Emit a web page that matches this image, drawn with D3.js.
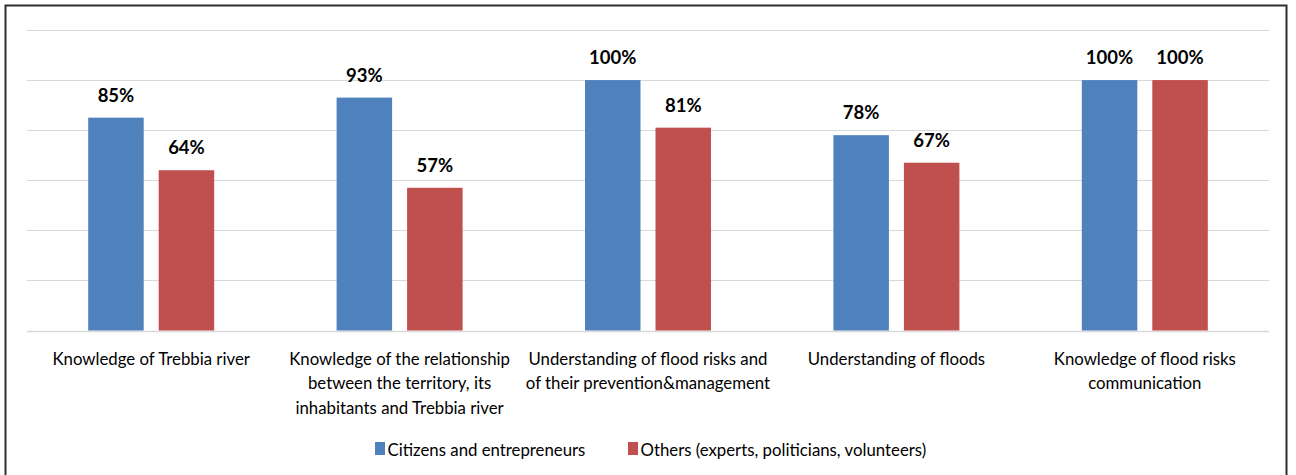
<!DOCTYPE html>
<html>
<head>
<meta charset="utf-8">
<script src="https://cdn.jsdelivr.net/npm/d3@7"></script>
<style>
  html, body { margin: 0; padding: 0; background: #fff; }
  svg { display: block; }
</style>
</head>
<body>
<svg id="chart" width="1296" height="475"></svg>
<script>
// Survey results: share of respondents per topic, by group
const categories = [
  "Knowledge of Trebbia river",
  "Knowledge of the relationship between the territory, its inhabitants and Trebbia river",
  "Understanding of flood risks and of their prevention&management",
  "Understanding of floods",
  "Knowledge of flood risks communication"
];
const seriesNames = ["Citizens and entrepreneurs", "Others (experts, politicians, volunteers)"];
const citizens = [85, 93, 100, 78, 100];
const others = [64, 57, 81, 67, 100];
const yTicks = [0, 20, 40, 60, 80, 100, 120];
const colors = ["#4F81BD", "#C0504D"];

const FONT = "Lato, 'Open Sans', sans-serif";
const svg = d3.select("#chart");

// outer frame
svg.append("rect")
  .attr("x", 5.5).attr("y", 5.5)
  .attr("width", 1281).attr("height", 480)
  .attr("fill", "none").attr("stroke", "#2e2e2e").attr("stroke-width", 2);

const plot = { left: 27, right: 1269, top: 30, bottom: 330.5 };

const x = d3.scaleBand().domain(categories).range([plot.left, plot.right]).paddingInner(0).paddingOuter(0);
const y = d3.scaleLinear().domain([0, 120]).range([plot.bottom, plot.top]);

// horizontal gridlines
svg.append("g")
  .selectAll("line")
  .data(yTicks)
  .join("line")
  .attr("x1", plot.left).attr("x2", plot.right)
  .attr("y1", d => Math.round(y(d)) + 0.5).attr("y2", d => Math.round(y(d)) + 0.5)
  .attr("stroke", "#d9d9d9").attr("stroke-width", d => d === 0 ? 1.5 : 1.2);

// two bars per category
const barW = 55.5, gap = 15;
const groupW = barW * 2 + gap;
const sub = d3.scaleOrdinal().domain([0, 1]).range([0, barW + gap]);

const rows = categories.map((c, i) => ({ cat: c, vals: [citizens[i], others[i]] }));

const groups = svg.append("g").selectAll("g")
  .data(rows)
  .join("g")
  .attr("transform", d => `translate(${x(d.cat) + (x.bandwidth() - groupW) / 2},0)`);

groups.selectAll("rect")
  .data(d => d.vals.map((v, s) => ({ v, s })))
  .join("rect")
  .attr("x", d => sub(d.s))
  .attr("y", d => y(d.v))
  .attr("width", barW)
  .attr("height", d => y(0) - y(d.v))
  .attr("fill", d => colors[d.s]);

groups.selectAll("text.val")
  .data(d => d.vals.map((v, s) => ({ v, s })))
  .join("text")
  .attr("class", "val")
  .attr("x", d => sub(d.s) + barW / 2)
  .attr("y", d => y(d.v) - 16)
  .attr("text-anchor", "middle")
  .attr("font-family", FONT)
  .attr("font-weight", "bold")
  .attr("font-size", 18.5)
  .attr("fill", "#000")
  .text(d => d.v + "%");

// category labels, wrapped within the band
const xAxis = svg.append("g");
const catText = xAxis.selectAll("text")
  .data(categories)
  .join("text")
  .attr("x", d => x(d) + x.bandwidth() / 2)
  .attr("y", 364.5)
  .attr("text-anchor", "middle")
  .attr("font-family", FONT)
  .attr("font-size", 16.8)
  .attr("fill", "#000");

catText.each(function(d) {
  const t = d3.select(this);
  const words = d.split(" ");
  const maxW = 245;
  let lines = [], line = [];
  const probe = t.append("tspan");
  words.forEach(w => {
    const test = line.concat(w).join(" ");
    probe.text(test);
    if (probe.node().getComputedTextLength() > maxW && line.length) {
      lines.push(line.join(" "));
      line = [w];
    } else {
      line.push(w);
    }
  });
  lines.push(line.join(" "));
  probe.remove();
  lines.forEach((l, i) => {
    t.append("tspan")
      .attr("x", x(d) + x.bandwidth() / 2)
      .attr("dy", i === 0 ? 0 : 24.5)
      .text(l);
  });
});

// legend
const legend = svg.append("g");
const legendItems = [{ x: 375 }, { x: 628 }];
seriesNames.forEach((name, i) => {
  const g = legend.append("g").attr("transform", `translate(${legendItems[i].x},0)`);
  g.append("rect").attr("x", 0).attr("y", 442).attr("width", 10).attr("height", 13).attr("fill", colors[i]);
  g.append("text").attr("x", 12.5).attr("y", 456)
    .attr("font-family", FONT).attr("font-size", 16.8).attr("fill", "#000")
    .text(name);
});
</script>
</body>
</html>
